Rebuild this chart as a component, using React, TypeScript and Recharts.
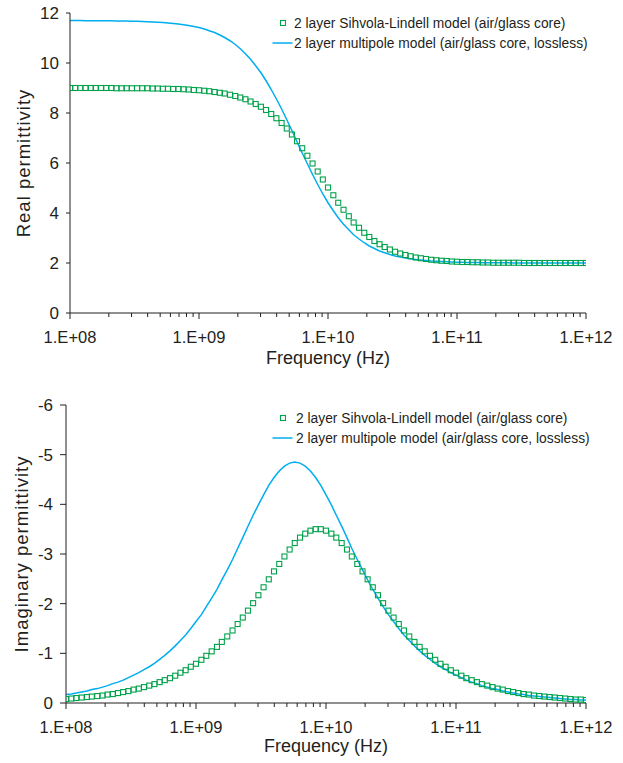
import React from 'react';
import { ComposedChart, Line, XAxis, YAxis, Legend, Label } from 'recharts';

// Frequency grid (Hz)
const frequencyHz = [
  1.00e8, 1.10e8, 1.20e8, 1.32e8, 1.45e8, 1.58e8, 1.74e8, 1.91e8, 2.09e8, 2.29e8, 2.51e8, 2.75e8, 3.02e8, 3.31e8, 3.63e8, 3.98e8, 4.37e8, 4.79e8, 5.25e8, 5.75e8, 6.31e8, 6.92e8, 7.59e8, 8.32e8, 9.12e8,
  1.00e9, 1.10e9, 1.20e9, 1.32e9, 1.45e9, 1.58e9, 1.74e9, 1.91e9, 2.09e9, 2.29e9, 2.51e9, 2.75e9, 3.02e9, 3.31e9, 3.63e9, 3.98e9, 4.37e9, 4.79e9, 5.25e9, 5.75e9, 6.31e9, 6.92e9, 7.59e9, 8.32e9, 9.12e9,
  1.00e10, 1.10e10, 1.20e10, 1.32e10, 1.45e10, 1.58e10, 1.74e10, 1.91e10, 2.09e10, 2.29e10, 2.51e10, 2.75e10, 3.02e10, 3.31e10, 3.63e10, 3.98e10, 4.37e10, 4.79e10, 5.25e10, 5.75e10, 6.31e10, 6.92e10, 7.59e10, 8.32e10, 9.12e10,
  1.00e11, 1.10e11, 1.20e11, 1.32e11, 1.45e11, 1.58e11, 1.74e11, 1.91e11, 2.09e11, 2.29e11, 2.51e11, 2.75e11, 3.02e11, 3.31e11, 3.63e11, 3.98e11, 4.37e11, 4.79e11, 5.25e11, 5.75e11, 6.31e11, 6.92e11, 7.59e11, 8.32e11, 9.12e11,
  1.00e12,
];

// 2 layer Sihvola-Lindell model (air/glass core)
const sihvolaReal = [
  9.00, 9.00, 9.00, 9.00, 9.00, 9.00, 9.00, 9.00, 9.00, 8.99,
  8.99, 8.99, 8.99, 8.99, 8.99, 8.99, 8.98, 8.98, 8.97, 8.97,
  8.96, 8.96, 8.95, 8.94, 8.92, 8.91, 8.89, 8.87, 8.84, 8.81,
  8.78, 8.73, 8.68, 8.62, 8.55, 8.46, 8.36, 8.25, 8.12, 7.96,
  7.79, 7.60, 7.38, 7.14, 6.87, 6.59, 6.29, 5.98, 5.66, 5.34,
  5.02, 4.71, 4.41, 4.13, 3.87, 3.62, 3.41, 3.21, 3.04, 2.88,
  2.75, 2.64, 2.54, 2.45, 2.38, 2.32, 2.27, 2.22, 2.19, 2.16,
  2.13, 2.11, 2.09, 2.08, 2.06, 2.05, 2.04, 2.04, 2.03, 2.03,
  2.02, 2.02, 2.01, 2.01, 2.01, 2.01, 2.01, 2.01, 2.00, 2.00,
  2.00, 2.00, 2.00, 2.00, 2.00, 2.00, 2.00, 2.00, 2.00, 2.00, 2.00,
];
const sihvolaImag = [
  -0.08, -0.09, -0.10, -0.11, -0.12, -0.13, -0.14, -0.15, -0.17, -0.18,
  -0.20, -0.22, -0.24, -0.27, -0.29, -0.32, -0.35, -0.38, -0.42, -0.46,
  -0.50, -0.55, -0.61, -0.66, -0.73, -0.79, -0.87, -0.95, -1.04, -1.13,
  -1.23, -1.34, -1.46, -1.59, -1.72, -1.86, -2.01, -2.17, -2.33, -2.49,
  -2.65, -2.80, -2.95, -3.09, -3.22, -3.33, -3.41, -3.47, -3.50, -3.50,
  -3.47, -3.41, -3.33, -3.22, -3.09, -2.95, -2.80, -2.65, -2.49, -2.33,
  -2.17, -2.01, -1.86, -1.72, -1.59, -1.46, -1.34, -1.23, -1.13, -1.04,
  -0.95, -0.87, -0.79, -0.73, -0.66, -0.61, -0.55, -0.50, -0.46, -0.42,
  -0.38, -0.35, -0.32, -0.29, -0.27, -0.24, -0.22, -0.20, -0.18, -0.17,
  -0.15, -0.14, -0.13, -0.12, -0.11, -0.10, -0.09, -0.08, -0.07, -0.07, -0.06,
];

// 2 layer multipole model (air/glass core, lossless)
const multipoleReal = [
  11.70, 11.70, 11.70, 11.69, 11.69, 11.69, 11.69, 11.69, 11.69, 11.68,
  11.68, 11.68, 11.67, 11.67, 11.66, 11.65, 11.64, 11.63, 11.62, 11.60,
  11.58, 11.56, 11.53, 11.50, 11.46, 11.42, 11.36, 11.29, 11.22, 11.12,
  11.02, 10.89, 10.74, 10.57, 10.37, 10.15, 9.89, 9.61, 9.29, 8.94,
  8.56, 8.16, 7.73, 7.30, 6.85, 6.40, 5.97, 5.54, 5.14, 4.76,
  4.41, 4.09, 3.81, 3.55, 3.33, 3.13, 2.96, 2.81, 2.68, 2.58,
  2.48, 2.41, 2.34, 2.28, 2.24, 2.20, 2.17, 2.14, 2.12, 2.10,
  2.08, 2.07, 2.06, 2.05, 2.04, 2.03, 2.03, 2.02, 2.02, 2.02,
  2.01, 2.01, 2.01, 2.01, 2.01, 2.01, 2.00, 2.00, 2.00, 2.00,
  2.00, 2.00, 2.00, 2.00, 2.00, 2.00, 2.00, 2.00, 2.00, 2.00, 2.00,
];
const multipoleImag = [
  -0.17, -0.18, -0.20, -0.22, -0.24, -0.27, -0.29, -0.32, -0.35, -0.39,
  -0.42, -0.46, -0.51, -0.56, -0.61, -0.67, -0.73, -0.80, -0.88, -0.96,
  -1.05, -1.15, -1.26, -1.37, -1.50, -1.64, -1.78, -1.94, -2.11, -2.29,
  -2.48, -2.68, -2.89, -3.11, -3.33, -3.56, -3.78, -3.99, -4.19, -4.38,
  -4.54, -4.67, -4.77, -4.83, -4.85, -4.83, -4.77, -4.67, -4.54, -4.38,
  -4.19, -3.99, -3.78, -3.56, -3.33, -3.11, -2.89, -2.68, -2.48, -2.29,
  -2.11, -1.94, -1.78, -1.64, -1.50, -1.37, -1.26, -1.15, -1.05, -0.96,
  -0.88, -0.80, -0.73, -0.67, -0.61, -0.56, -0.51, -0.46, -0.42, -0.39,
  -0.35, -0.32, -0.29, -0.27, -0.24, -0.22, -0.20, -0.18, -0.17, -0.15,
  -0.14, -0.13, -0.12, -0.11, -0.10, -0.09, -0.08, -0.07, -0.07, -0.06, -0.06,
];

const xTicks = [
  1e8, 2e8, 3e8, 4e8, 5e8, 6e8, 7e8, 8e8, 9e8,
  1e9, 2e9, 3e9, 4e9, 5e9, 6e9, 7e9, 8e9, 9e9,
  1e10, 2e10, 3e10, 4e10, 5e10, 6e10, 7e10, 8e10, 9e10,
  1e11, 2e11, 3e11, 4e11, 5e11, 6e11, 7e11, 8e11, 9e11,
  1e12,
];
const majorTicks = [1e8, 1e9, 1e10, 1e11, 1e12];
const majorLabels = ['1.E+08', '1.E+09', '1.E+10', '1.E+11', '1.E+12'];
const realTicks = [0, 2, 4, 6, 8, 10, 12];
const imagTicks = [-6, -5, -4, -3, -2, -1, 0];
const seriesNames = [
  '2 layer Sihvola-Lindell model (air/glass core)',
  '2 layer multipole model (air/glass core, lossless)',
];

const data = frequencyHz.map((f, i) => ({
  f,
  slRe: sihvolaReal[i],
  mpRe: multipoleReal[i],
  slIm: sihvolaImag[i],
  mpIm: multipoleImag[i],
}));

const FONT = '"Liberation Sans", Arial, Helvetica, sans-serif';
const TEXT = '#231F20';
const AXIS = '#231F20';
const BLUE = '#00AEEF';
const GREEN = '#00A14B';
const SQ = 5;

const XTick = (props: any) => {
  const { x, y, payload } = props;
  const idx = majorTicks.indexOf(payload.value);
  const major = idx >= 0;
  return (
    <g>
      <line x1={x} x2={x} y1={y} y2={y + (major ? 6 : 4)} stroke={AXIS} strokeWidth={1} />
      {major && (
        <text x={x} y={y + 30} textAnchor="middle" fontSize={16.5} fill={TEXT} fontFamily={FONT}>
          {majorLabels[idx]}
        </text>
      )}
    </g>
  );
};

const SquareDot = (props: any) => {
  const { cx, cy, index } = props;
  if (cx == null || cy == null) return <g key={`d${index}`} />;
  return (
    <rect key={`d${index}`} x={cx - SQ / 2} y={cy - SQ / 2} width={SQ} height={SQ} fill="none" stroke={GREEN} strokeWidth={1.1} />
  );
};

const LegendBox = ({ textX }: { textX: number }) => (
  <svg width={360} height={50} style={{ overflow: 'visible', display: 'block' }}>
    <rect x={15 - SQ / 2} y={13 - SQ / 2} width={SQ} height={SQ} fill="none" stroke={GREEN} strokeWidth={1.1} />
    <text x={textX} y={13} dy="0.35em" fontSize={13.8} fill={TEXT} fontFamily={FONT}>
      {seriesNames[0]}
    </text>
    <line x1={4.5} x2={24.5} y1={33} y2={33} stroke={BLUE} strokeWidth={1.5} />
    <text x={textX} y={33} dy="0.35em" fontSize={13.8} fill={TEXT} fontFamily={FONT}>
      {seriesNames[1]}
    </text>
  </svg>
);

const yTitle = (text: string, x: number, y: number) => () => (
  <text
    x={x}
    y={y}
    transform={`rotate(-90 ${x} ${y})`}
    textAnchor="middle"
    dy="0.35em"
    fontSize={18.5}
    letterSpacing={1}
    fill={TEXT}
    fontFamily={FONT}
  >
    {text}
  </text>
);

const xTitle = (x: number, y: number) => () => (
  <text x={x} y={y} textAnchor="middle" fontSize={18} fill={TEXT} fontFamily={FONT}>
    Frequency (Hz)
  </text>
);

export default function App() {
  return (
    <div style={{ position: 'absolute', left: 0, top: 0, width: 623, height: 763, background: '#fff', fontFamily: FONT }}>
      <div style={{ position: 'absolute', left: 0, top: 0 }}>
        <ComposedChart width={623} height={390} data={data} margin={{ top: 13, right: 37, bottom: 17, left: 0 }}>
          <XAxis
            dataKey="f"
            type="number"
            scale="log"
            domain={[1e8, 1e12]}
            allowDataOverflow
            ticks={xTicks}
            interval={0}
            tick={(p: any) => <XTick {...p} />}
            tickLine={false}
            tickSize={0}
            tickMargin={0}
            axisLine={{ stroke: AXIS }}
            height={60}
          >
            <Label content={xTitle(328, 364)} />
          </XAxis>
          <YAxis
            type="number"
            domain={[0, 12]}
            ticks={realTicks}
            interval={0}
            width={70}
            tickSize={4}
            tickMargin={7}
            tick={{ fontSize: 17, fill: TEXT, fontFamily: FONT }}
            tickLine={{ stroke: AXIS }}
            axisLine={{ stroke: AXIS }}
          >
            <Label content={yTitle('Real permittivity', 24, 163)} />
          </YAxis>
          <Legend
            content={() => <LegendBox textX={26} />}
            wrapperStyle={{ left: 268, top: 10, width: 0, height: 0, overflow: 'visible' }}
          />
          <Line dataKey="slRe" name={seriesNames[0]} stroke="none" dot={SquareDot} activeDot={false} isAnimationActive={false} />
          <Line dataKey="mpRe" name={seriesNames[1]} stroke={BLUE} strokeWidth={1.5} dot={false} activeDot={false} isAnimationActive={false} />
        </ComposedChart>
      </div>
      <div style={{ position: 'absolute', left: 0, top: 390 }}>
        <ComposedChart width={623} height={373} data={data} margin={{ top: 15, right: 37, bottom: 10, left: 0 }}>
          <XAxis
            dataKey="f"
            type="number"
            scale="log"
            domain={[1e8, 1e12]}
            allowDataOverflow
            ticks={xTicks}
            interval={0}
            tick={(p: any) => <XTick {...p} />}
            tickLine={false}
            tickSize={0}
            tickMargin={0}
            axisLine={{ stroke: AXIS }}
            height={50}
          >
            <Label content={xTitle(326, 362)} />
          </XAxis>
          <YAxis
            type="number"
            domain={[-6, 0]}
            reversed
            ticks={imagTicks}
            interval={0}
            width={66}
            tickSize={6}
            tickMargin={7}
            tick={{ fontSize: 17, fill: TEXT, fontFamily: FONT }}
            tickLine={{ stroke: AXIS }}
            axisLine={{ stroke: AXIS }}
          >
            <Label content={yTitle('Imaginary permittivity', 22, 164)} />
          </YAxis>
          <Legend
            content={() => <LegendBox textX={28} />}
            wrapperStyle={{ left: 268, top: 15, width: 0, height: 0, overflow: 'visible' }}
          />
          <Line dataKey="slIm" name={seriesNames[0]} stroke="none" dot={SquareDot} activeDot={false} isAnimationActive={false} />
          <Line dataKey="mpIm" name={seriesNames[1]} stroke={BLUE} strokeWidth={1.5} dot={false} activeDot={false} isAnimationActive={false} />
        </ComposedChart>
      </div>
    </div>
  );
}
